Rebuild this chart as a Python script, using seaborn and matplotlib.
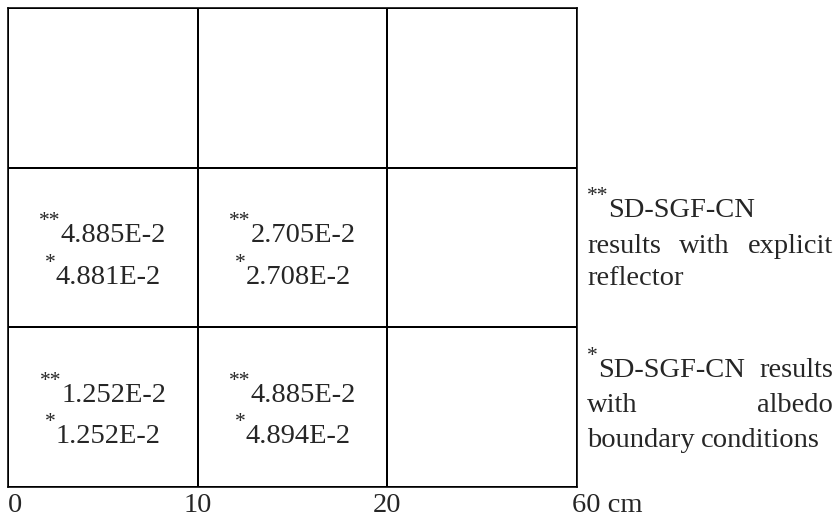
import numpy as np
import matplotlib
matplotlib.use("Agg")
import matplotlib.pyplot as plt
import matplotlib.transforms as mtransforms
from matplotlib.colors import ListedColormap
import seaborn as sns

# ---- data ----
x_tick_labels = ["0", "10", "20", "60 cm"]
# rows from top to bottom, columns left to right ("" = empty cell)
explicit_reflector = [["", "", ""],
                      ["4.885E-2", "2.705E-2", ""],
                      ["1.252E-2", "4.885E-2", ""]]
albedo_bc = [["", "", ""],
             ["4.881E-2", "2.708E-2", ""],
             ["1.252E-2", "4.894E-2", ""]]
mark_explicit = "**"
mark_albedo = "*"
note_explicit = [[mark_explicit + "SD-SGF-CN"], ["results", "with", "explicit"], ["reflector"]]
note_albedo = [[mark_albedo + "SD-SGF-CN", "results"], ["with", "albedo"], ["boundary", "conditions"]]

# ---- style ----
sns.set_style("white")
plt.rcParams["font.family"] = ["Liberation Serif", "DejaVu Serif"]

W, H = 838, 519
fs = 20.5
fs_sup = 15.5
sup_raise = 16  # px
lw = 1.15
fig = plt.figure(figsize=(W / 100, H / 100), dpi=100)
ax = fig.add_axes([8 / W, (H - 487) / H, 569 / W, 479 / H])

n_rows, n_cols = len(explicit_reflector), len(explicit_reflector[0])
sns.heatmap(np.zeros((n_rows, n_cols)), ax=ax, cmap=ListedColormap(["white"]),
            cbar=False, linewidths=lw, linecolor="black")

for s in ax.spines.values():
    s.set_visible(True)
    s.set_linewidth(lw)
    s.set_color("black")

ax.set_yticks([])
ax.set_xticks(np.arange(n_cols + 1))
ax.set_xticklabels(x_tick_labels, fontsize=fs)
ax.tick_params(axis="x", length=0, pad=4)
labels = ax.get_xticklabels()
labels[0].set_ha("left")
labels[-1].set_ha("left")
labels[-1].set_transform(labels[-1].get_transform() +
                         mtransforms.ScaledTranslation(-5 / 100, 0, fig.dpi_scale_trans))
ax.set_xlabel("")
ax.set_ylabel("")

fig.canvas.draw()
renderer = fig.canvas.get_renderer()


class Word:
    """A word with optional leading superscript asterisks, positioned in display px."""

    def __init__(self, s):
        m = len(s) - len(s.lstrip("*"))
        self.mark, self.body = s[:m], s[m:]
        self.tm = fig.text(0, 0, self.mark, fontsize=fs_sup, ha="left", va="baseline") if self.mark else None
        self.tb = fig.text(0, 0, self.body, fontsize=fs, ha="left", va="baseline")
        self.wm = self.tm.get_window_extent(renderer).width if self.tm else 0.0
        self.width = self.wm + self.tb.get_window_extent(renderer).width

    def place(self, x, yb):
        if self.tm is not None:
            self.tm.set_position((x / W, (yb + sup_raise) / H))
        self.tb.set_position(((x + self.wm) / W, yb / H))


# ---- cell values ----
line_offsets = [5, -36]  # baseline offsets (px) from cell centre, display coords
for i in range(n_rows):
    for j in range(n_cols):
        a, b = explicit_reflector[i][j], albedo_bc[i][j]
        if not a:
            continue
        cx, cy = ax.transData.transform((j + 0.5, i + 0.5))
        for s, off in zip([mark_explicit + a, mark_albedo + b], line_offsets):
            w = Word(s)
            w.place(cx - w.width / 2, cy + off)

# ---- justified side notes ----
x_left, x_right = 587, 833


def place_paragraph(lines, baselines):
    for k, (words, yb) in enumerate(zip(lines, baselines)):
        yd = H - yb
        ws = [Word(s) for s in words]
        last = k == len(lines) - 1
        if len(ws) == 1:
            ws[0].place(x_left, yd)
            continue
        if last:
            space = 6.0
        else:
            space = (x_right - x_left - sum(w.width for w in ws)) / (len(ws) - 1)
        x = x_left
        for w in ws:
            w.place(x, yd)
            x += w.width + space


place_paragraph(note_explicit, [217, 253, 285])
place_paragraph(note_albedo, [377, 412, 447])

fig.savefig("out.png", dpi=100)
